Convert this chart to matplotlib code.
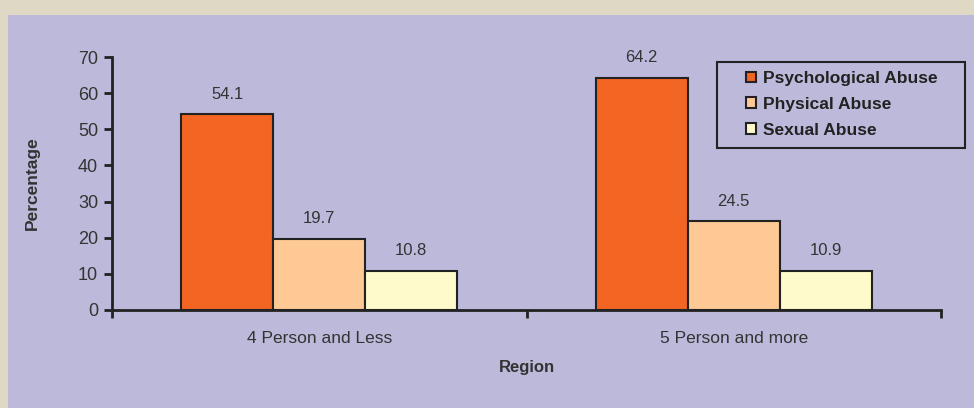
import matplotlib
matplotlib.use("Agg")
import matplotlib.pyplot as plt
import numpy as np
from matplotlib.patches import Rectangle

categories = ["4 Person and Less", "5 Person and more"]
series_names = ["Psychological Abuse", "Physical Abuse", "Sexual Abuse"]
psychological = [54.1, 64.2]
physical = [19.7, 24.5]
sexual = [10.8, 10.9]
yticks = [0, 10, 20, 30, 40, 50, 60, 70]

colors = ["#f26522", "#fec994", "#fefacc"]
bg = "#bdb9db"
border = "#ded8c4"
txt = "#333333"

plt.rcParams['font.family'] = ['Liberation Sans', 'DejaVu Sans']

fig = plt.figure(figsize=(9.74, 4.08), dpi=100)
fig.patch.set_facecolor(border)
rect = Rectangle((8/974, 0), 1, 1 - 15/408, transform=fig.transFigure,
                 facecolor=bg, edgecolor='none', zorder=-10)
fig.add_artist(rect)

ax = fig.add_axes([112/974, 1 - 310/408, (941 - 112)/974, (310 - 57)/408])
ax.set_facecolor('none')
ax.set_zorder(5)

x = np.arange(len(categories))
w = 0.222
data = [psychological, physical, sexual]
handles = []
for i, (vals, c, name) in enumerate(zip(data, colors, series_names)):
    bars = ax.bar(x + (i - 1) * w, vals, w, color=c, edgecolor='#222222', linewidth=1.5,
                  label=name, zorder=3)
    handles.append(bars)
    for b, v in zip(bars, vals):
        ax.annotate(f"{v}", (b.get_x() + b.get_width() / 2, v), xytext=(0, 9),
                    textcoords='offset points', ha='center', va='bottom',
                    fontsize=12, color=txt)

ax.set_xlim(-0.5, len(categories) - 0.5)
ax.set_ylim(0, 70)
ax.set_yticks(yticks)
ax.set_xticks(x)
ax.set_xticklabels(categories, fontsize=12.5, color=txt)
ax.set_xticks(np.arange(len(categories) + 1) - 0.5, minor=True)
ax.tick_params(axis='x', which='major', length=0, pad=15)
ax.tick_params(axis='x', which='minor', length=6, width=2, color='#222222')
ax.tick_params(axis='y', length=6, width=2, pad=4, color='#222222', labelsize=13, labelcolor=txt)

for s in ['top', 'right']:
    ax.spines[s].set_visible(False)
for s in ['left', 'bottom']:
    ax.spines[s].set_linewidth(2)
    ax.spines[s].set_color('#222222')

ax.set_ylabel("Percentage", fontsize=12.5, fontweight='bold', color=txt, labelpad=27)
ax.set_xlabel("Region", fontsize=12, fontweight='bold', color=txt, labelpad=10)

# legend box
fig.add_artist(Rectangle((717/974, 1 - 148/408), (965 - 717)/974, (148 - 62)/408,
                         transform=fig.transFigure, facecolor='none',
                         edgecolor='#222222', linewidth=1.5, zorder=10))
leg = ax.legend(handles=handles, labels=series_names, loc='upper left',
                bbox_to_anchor=(746/974, 1 - 71/408),
                bbox_transform=fig.transFigure, frameon=False,
                handlelength=0.55, handleheight=0.55, handletextpad=0.45,
                borderpad=0, labelspacing=0.62, borderaxespad=0,
                prop={'weight': 'bold', 'size': 12.5})
for t in leg.get_texts():
    t.set_color('#222222')

fig.savefig("out.png", dpi=100, facecolor=fig.get_facecolor())
